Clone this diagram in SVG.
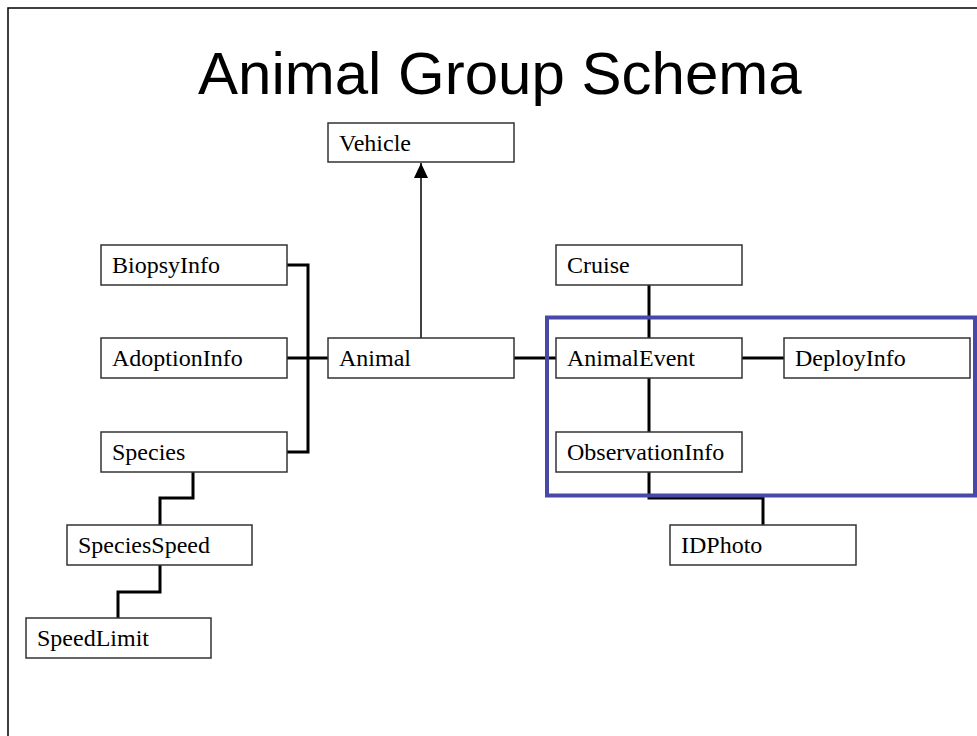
<svg xmlns="http://www.w3.org/2000/svg" width="977" height="736" viewBox="0 0 977 736">
<style>
.box{fill:#fff;stroke:#333;stroke-width:1.5}
.lbl{font-family:"Liberation Serif","Times New Roman",serif;font-size:24px;fill:#000}
.conn{fill:none;stroke:#000;stroke-width:3}
.title{font-family:"Liberation Sans",Arial,sans-serif;font-size:60px;fill:#000}
</style>
<defs>
<marker id="arrow" markerWidth="15" markerHeight="14" refX="15" refY="7" orient="auto" markerUnits="userSpaceOnUse" viewBox="0 0 15 14">
<path d="M0,0 L15,7 L0,14 Z" fill="#000"/>
</marker>
</defs>
<rect width="977" height="736" fill="#fff"/>
<path d="M8,736 V8 H977" fill="none" stroke="#000" stroke-width="1.5"/>
<text class="title" x="198" y="94">Animal Group Schema</text>

<g id="connectors">
<path class="conn" d="M287,265 H308 V452 H287"/>
<path class="conn" d="M287,358 H328"/>
<path class="conn" d="M193,472 V498 H160 V525"/>
<path class="conn" d="M160,565 V592 H118 V618"/>
<path d="M421,338 V163" fill="none" stroke="#000" stroke-width="1.5" marker-end="url(#arrow)"/>
<path class="conn" d="M514,358 H556"/>
<path class="conn" d="M649,285 V338"/>
<path class="conn" d="M742,358 H784"/>
<path class="conn" d="M649,378 V432"/>
<path class="conn" d="M649,472 V498 H763 V525"/>
</g>

<rect id="group-frame" x="547" y="317.5" width="428" height="178" fill="none" stroke="#4848a8" stroke-width="4"/>

<g id="Vehicle"><rect class="box" x="328" y="123" width="186" height="39"/><text class="lbl" x="339" y="151">Vehicle</text></g>
<g id="BiopsyInfo"><rect class="box" x="101" y="245" width="186" height="40"/><text class="lbl" x="112" y="273">BiopsyInfo</text></g>
<g id="AdoptionInfo"><rect class="box" x="101" y="338" width="186" height="40"/><text class="lbl" x="112" y="366">AdoptionInfo</text></g>
<g id="Species"><rect class="box" x="101" y="432" width="186" height="40"/><text class="lbl" x="112" y="460">Species</text></g>
<g id="Animal"><rect class="box" x="328" y="338" width="186" height="40"/><text class="lbl" x="339" y="366">Animal</text></g>
<g id="SpeciesSpeed"><rect class="box" x="67" y="525" width="185" height="40"/><text class="lbl" x="78" y="553">SpeciesSpeed</text></g>
<g id="SpeedLimit"><rect class="box" x="26" y="618" width="185" height="40"/><text class="lbl" x="37" y="646">SpeedLimit</text></g>
<g id="Cruise"><rect class="box" x="556" y="245" width="186" height="40"/><text class="lbl" x="567" y="273">Cruise</text></g>
<g id="AnimalEvent"><rect class="box" x="556" y="338" width="186" height="40"/><text class="lbl" x="567" y="366">AnimalEvent</text></g>
<g id="DeployInfo"><rect class="box" x="784" y="338" width="186" height="40"/><text class="lbl" x="795" y="366">DeployInfo</text></g>
<g id="ObservationInfo"><rect class="box" x="556" y="432" width="186" height="40"/><text class="lbl" x="567" y="460">ObservationInfo</text></g>
<g id="IDPhoto"><rect class="box" x="670" y="525" width="186" height="40"/><text class="lbl" x="681" y="553">IDPhoto</text></g>
</svg>
